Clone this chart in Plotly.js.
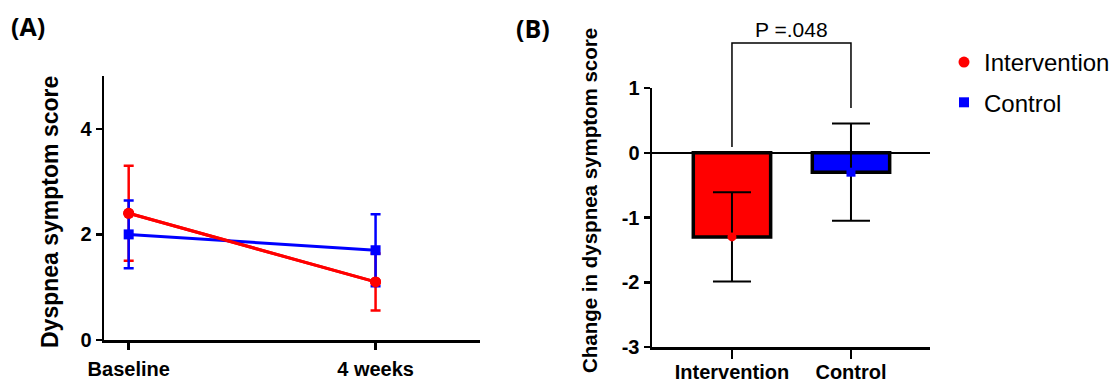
<!DOCTYPE html>
<html>
<head>
<meta charset="utf-8">
<script src="https://cdn.plot.ly/plotly-3.0.1.min.js"></script>
<style>html,body{margin:0;padding:0;background:#fff;}#chart{width:1118px;height:383px;}</style>
</head>
<body>
<div id="chart"></div>
<script>
// Panel A: dyspnea symptom score over time
const timeLabels = ["Baseline", "4 weeks"];
const timePos = [0, 1];
const interventionScore = [2.4, 1.1];
const interventionSD = [0.9, 0.54];
const controlScore = [2.0, 1.7];
const controlSD = [0.64, 0.68];
const scoreTicks = [0, 2, 4];

// Panel B: change in dyspnea symptom score
const groupLabels = ["Intervention", "Control"];
const groupPos = [0, 1];
const changeMean = [-1.3, -0.3];
const changeSD = [0.69, 0.75];
const groupColors = ["#ff0000", "#0000ff"];
const groupSymbols = ["circle", "square"];
const changeTicks = [-3, -2, -1, 0, 1];
const changeTickText = ["-3", "-2", "-1", "0", "1"];
const pText = "P =.048";

const RED = "#ff0000", BLUE = "#0000ff";
const FONT = "Liberation Sans, Arial, sans-serif";

const traces = [
  {
    x: timePos, y: interventionScore, type: "scatter", mode: "lines+markers",
    xaxis: "x", yaxis: "y", showlegend: false,
    line: {color: RED, width: 3},
    marker: {color: RED, symbol: "circle", size: 11},
    error_y: {type: "data", array: interventionSD, visible: true, color: RED, thickness: 2.5, width: 5},
    cliponaxis: false
  },
  {
    x: timePos, y: controlScore, type: "scatter", mode: "lines+markers",
    xaxis: "x", yaxis: "y", showlegend: false,
    line: {color: BLUE, width: 3},
    marker: {color: BLUE, symbol: "square", size: 10},
    error_y: {type: "data", array: controlSD, visible: true, color: BLUE, thickness: 2.5, width: 5},
    cliponaxis: false
  },
  {
    x: timePos, y: interventionScore, type: "scatter", mode: "lines+markers",
    xaxis: "x", yaxis: "y", showlegend: false,
    line: {color: RED, width: 3},
    marker: {color: RED, symbol: "circle", size: 11},
    cliponaxis: false
  },
  {
    x: groupPos, y: changeMean, type: "bar", xaxis: "x2", yaxis: "y2", showlegend: false,
    width: 0.65,
    marker: {color: groupColors, line: {color: "#000", width: 3.5}},
    error_y: {type: "data", array: changeSD, visible: true, color: "#000", thickness: 2, width: 19}
  },
  {
    x: groupPos, y: changeMean, type: "scatter", mode: "markers", xaxis: "x2", yaxis: "y2",
    showlegend: false,
    marker: {color: groupColors, symbol: groupSymbols, size: 9}
  },
  {
    x: [null], y: [null], type: "scatter", mode: "markers", name: groupLabels[0],
    legendgroup: "a", xaxis: "x2", yaxis: "y2",
    marker: {color: RED, symbol: "circle", size: 11}
  },
  {
    x: [null], y: [null], type: "scatter", mode: "markers", name: groupLabels[1],
    legendgroup: "b", xaxis: "x2", yaxis: "y2",
    marker: {color: BLUE, symbol: "square", size: 10}
  }
];

const W = 1118, H = 383;
const px = v => v / W;
const py = v => 1 - v / H;

const axisCommon = {
  showline: true, linecolor: "#000", linewidth: 2.5,
  ticks: "outside", tickcolor: "#000", tickwidth: 2.5,
  showgrid: false, zeroline: false, fixedrange: true,
  tickfont: {family: FONT, size: 20, color: "#000", weight: "bold"}
};

const layout = {
  width: W, height: H,
  margin: {l: 0, r: 0, t: 0, b: 0},
  paper_bgcolor: "#fff", plot_bgcolor: "rgba(0,0,0,0)",
  font: {family: FONT, color: "#000"},
  xaxis: Object.assign({}, axisCommon, {
    domain: [px(104), px(480)], anchor: "y",
    range: [-0.1, 1.423],
    tickvals: timePos, ticktext: timeLabels, ticklen: 7,
    ticklabelstandoff: 2
  }),
  yaxis: Object.assign({}, axisCommon, {
    domain: [py(340), py(76)], anchor: "x",
    range: [0, 5], tickvals: scoreTicks, ticklen: 6
  }),
  xaxis2: Object.assign({}, axisCommon, {
    domain: [px(652), px(930)], anchor: "y2",
    range: [-0.672, 1.664],
    tickvals: groupPos, ticktext: groupLabels, ticklen: 9,
    ticklabelstandoff: -4
  }),
  yaxis2: Object.assign({}, axisCommon, {
    domain: [py(347), py(88)], anchor: "x2",
    range: [-3, 1], tickvals: changeTicks, ticktext: changeTickText, ticklen: 6,
    zeroline: true, zerolinecolor: "#000", zerolinewidth: 2.5
  }),
  legend: {
    x: px(944), y: py(40), xanchor: "left", yanchor: "top",
    font: {family: FONT, size: 24, color: "#000"},
    bgcolor: "rgba(0,0,0,0)", traceorder: "grouped", tracegroupgap: 6,
    itemclick: false
  },
  shapes: [
    {type: "path", xref: "x2", yref: "paper",
     path: `M 0 ${py(147)} L 0 ${py(43)} L 1 ${py(43)} L 1 ${py(108)}`,
     line: {color: "#000", width: 1.5}}
  ],
  annotations: [
    {text: "(A)", xref: "paper", yref: "paper", x: px(28), y: py(26), xanchor: "center", yanchor: "middle",
     showarrow: false, font: {family: "Open Sans, sans-serif", size: 25, weight: "bold", color: "#000"}},
    {text: "(B)", xref: "paper", yref: "paper", x: px(533), y: py(28), xanchor: "center", yanchor: "middle",
     showarrow: false, font: {family: "Open Sans, sans-serif", size: 25, weight: "bold", color: "#000"}},
    {text: pText, xref: "x2", yref: "paper", x: 0.5, y: py(30), xanchor: "center", yanchor: "middle",
     showarrow: false, font: {family: FONT, size: 21, color: "#000"}},
    {text: "Dyspnea symptom score", xref: "paper", yref: "paper", x: px(50), y: py(212),
     xanchor: "center", yanchor: "middle", textangle: -90, showarrow: false,
     font: {family: FONT, size: 23, weight: "bold", color: "#000"}},
    {text: "Change in dyspnea symptom score", xref: "paper", yref: "paper", x: px(590), y: py(201),
     xanchor: "center", yanchor: "middle", textangle: -90, showarrow: false,
     font: {family: FONT, size: 20.5, weight: "bold", color: "#000"}}
  ]
};

Plotly.newPlot("chart", traces, layout, {displayModeBar: false, staticPlot: true});
</script>
</body>
</html>
